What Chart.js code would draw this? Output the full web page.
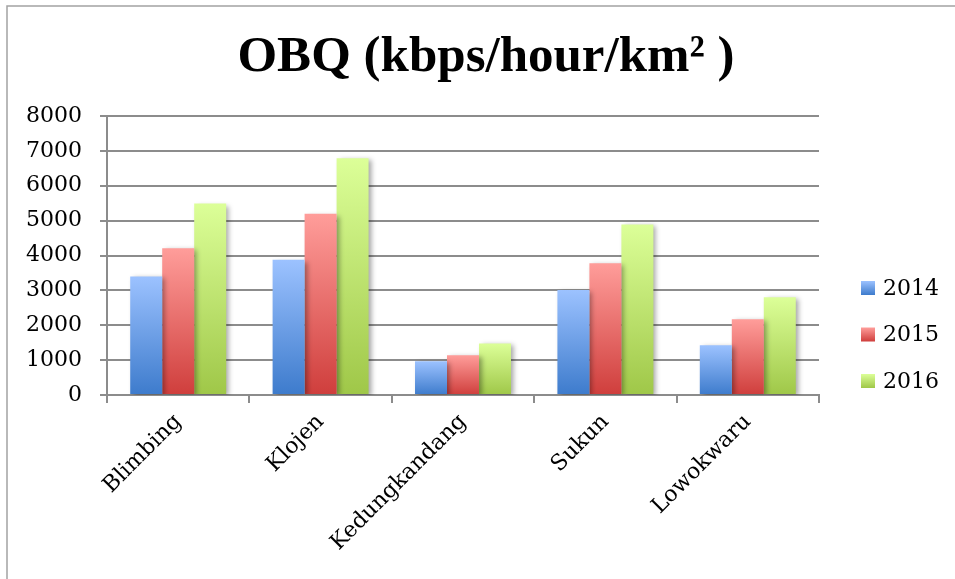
<!DOCTYPE html>
<html>
<head>
<meta charset="utf-8">
<script src="https://cdn.jsdelivr.net/npm/chart.js@4.4.1/dist/chart.umd.min.js"></script>
<style>
  html, body { margin: 0; padding: 0; background: #ffffff; }
  #wrap { width: 955px; height: 579px; position: relative; }
</style>
</head>
<body>
<div id="wrap"><canvas id="chart" width="955" height="579"></canvas></div>
<script>
// Districts and yearly OBQ values (kbps/hour/km²)
const districts = ['Blimbing', 'Klojen', 'Kedungkandang', 'Sukun', 'Lowokwaru'];
const years = ['2014', '2015', '2016'];
const obq2014 = [3400, 3880, 970, 3010, 1425];
const obq2015 = [4210, 5200, 1140, 3780, 2170];
const obq2016 = [5490, 6790, 1480, 4890, 2800];
const yTicks = [0, 1000, 2000, 3000, 4000, 5000, 6000, 7000, 8000];

// light (top) and dark (bottom) shades for each series
const shades = [
  ['#9cc2ff', '#3d7bcc'],
  ['#ff9d9a', '#cf3e3c'],
  ['#dcff98', '#9fc748']
];

const TITLE_FONT = "'Liberation Serif', 'DejaVu Serif', serif";
const TEXT_FONT = "'DejaVu Serif', 'Liberation Serif', serif";

function barGradient(ctx) {
  const chart = ctx.chart;
  const area = chart.chartArea;
  const pair = shades[ctx.datasetIndex];
  if (!area || ctx.type !== 'data') return pair[0];
  const y = chart.scales.y;
  const top = y.getPixelForValue(ctx.raw);
  const base = y.getPixelForValue(0);
  const g = chart.ctx.createLinearGradient(0, top, 0, base);
  g.addColorStop(0, pair[0]);
  g.addColorStop(1, pair[1]);
  return g;
}

// Legend as its own layout box on the right side
const sideLegend = {
  id: 'sideLegend',
  beforeInit(chart) {
    const box = {
      position: 'right', weight: 1000, fullSize: false, options: {},
      top: 0, left: 0, right: 0, bottom: 0, width: 0, height: 0,
      isHorizontal() { return false; },
      update(maxWidth, maxHeight) { this.width = 136; this.height = maxHeight; },
      getPadding() { return { left: 0, right: 0, top: 0, bottom: 0 }; },
      draw() {
        const c = chart.ctx;
        const ds = chart.data.datasets;
        const x0 = this.left + 42;
        const yCenter0 = 288;
        const gap = 46.5;
        c.save();
        c.font = '22px ' + TEXT_FONT;
        c.textBaseline = 'middle';
        c.textAlign = 'left';
        ds.forEach((d, i) => {
          const yc = yCenter0 + i * gap;
          const g = c.createLinearGradient(0, yc - 7, 0, yc + 7);
          g.addColorStop(0, shades[i][0]);
          g.addColorStop(1, shades[i][1]);
          c.fillStyle = g;
          c.fillRect(x0, yc - 7, 14, 14);
          c.fillStyle = '#000';
          c.fillText(d.label, x0 + 22, yc + 1);
        });
        c.restore();
      }
    };
    Chart.layouts.addBox(chart, box);
  }
};

// soft drop shadow under the bars, plus the frame lines on the left/top
const decor = {
  id: 'decor',
  beforeDatasetsDraw(chart) {
    const c = chart.ctx;
    c.save();
    c.shadowColor = 'rgba(0,0,0,0.35)';
    c.shadowBlur = 5;
    c.shadowOffsetX = 3;
    c.shadowOffsetY = 2;
  },
  afterDatasetsDraw(chart) {
    chart.ctx.restore();
  },
  afterDraw(chart) {
    const c = chart.ctx;
    c.save();
    c.strokeStyle = '#a3a3a3';
    c.lineWidth = 1.5;
    c.beginPath();
    c.moveTo(7, 579);
    c.lineTo(7, 6);
    c.lineTo(955, 6);
    c.stroke();
    c.restore();
  }
};

new Chart(document.getElementById('chart'), {
  type: 'bar',
  data: {
    labels: districts,
    datasets: [
      { label: years[0], data: obq2014, backgroundColor: barGradient },
      { label: years[1], data: obq2015, backgroundColor: barGradient },
      { label: years[2], data: obq2016, backgroundColor: barGradient }
    ]
  },
  options: {
    responsive: false,
    animation: false,
    events: [],
    layout: { padding: { left: 17, right: 0, top: 0, bottom: 0 } },
    datasets: { bar: { categoryPercentage: 0.674, barPercentage: 1.0, borderWidth: 0 } },
    plugins: {
      legend: { display: false },
      tooltip: { enabled: false },
      title: {
        display: true,
        text: 'OBQ (kbps/hour/km² )',
        color: '#000',
        font: { family: TITLE_FONT, size: 51, weight: 'bold', lineHeight: 1.2 },
        padding: { top: 27.4, bottom: 27.4 }
      }
    },
    scales: {
      x: {
        grid: { display: true, drawOnChartArea: false, drawTicks: true, tickLength: 8, color: '#8c8c8c', lineWidth: 2 },
        border: { display: true, color: '#8c8c8c', width: 2 },
        ticks: {
          color: '#000', font: { family: TEXT_FONT, size: 22 },
          minRotation: 45, maxRotation: 45, autoSkip: false, padding: 6
        },
        afterFit(scale) { scale.height = 184; }
      },
      y: {
        min: 0, max: 8000,
        afterBuildTicks(scale) { scale.ticks = yTicks.map(v => ({ value: v })); },
        grid: { color: '#8c8c8c', lineWidth: 2, tickLength: 7 },
        border: { display: true, color: '#8c8c8c', width: 2 },
        ticks: {
          color: '#000', font: { family: TEXT_FONT, size: 22 }, padding: 18,
          callback: v => String(v)
        },
        afterFit(scale) { scale.width = 90; }
      }
    }
  },
  plugins: [sideLegend, decor]
});
</script>
</body>
</html>
